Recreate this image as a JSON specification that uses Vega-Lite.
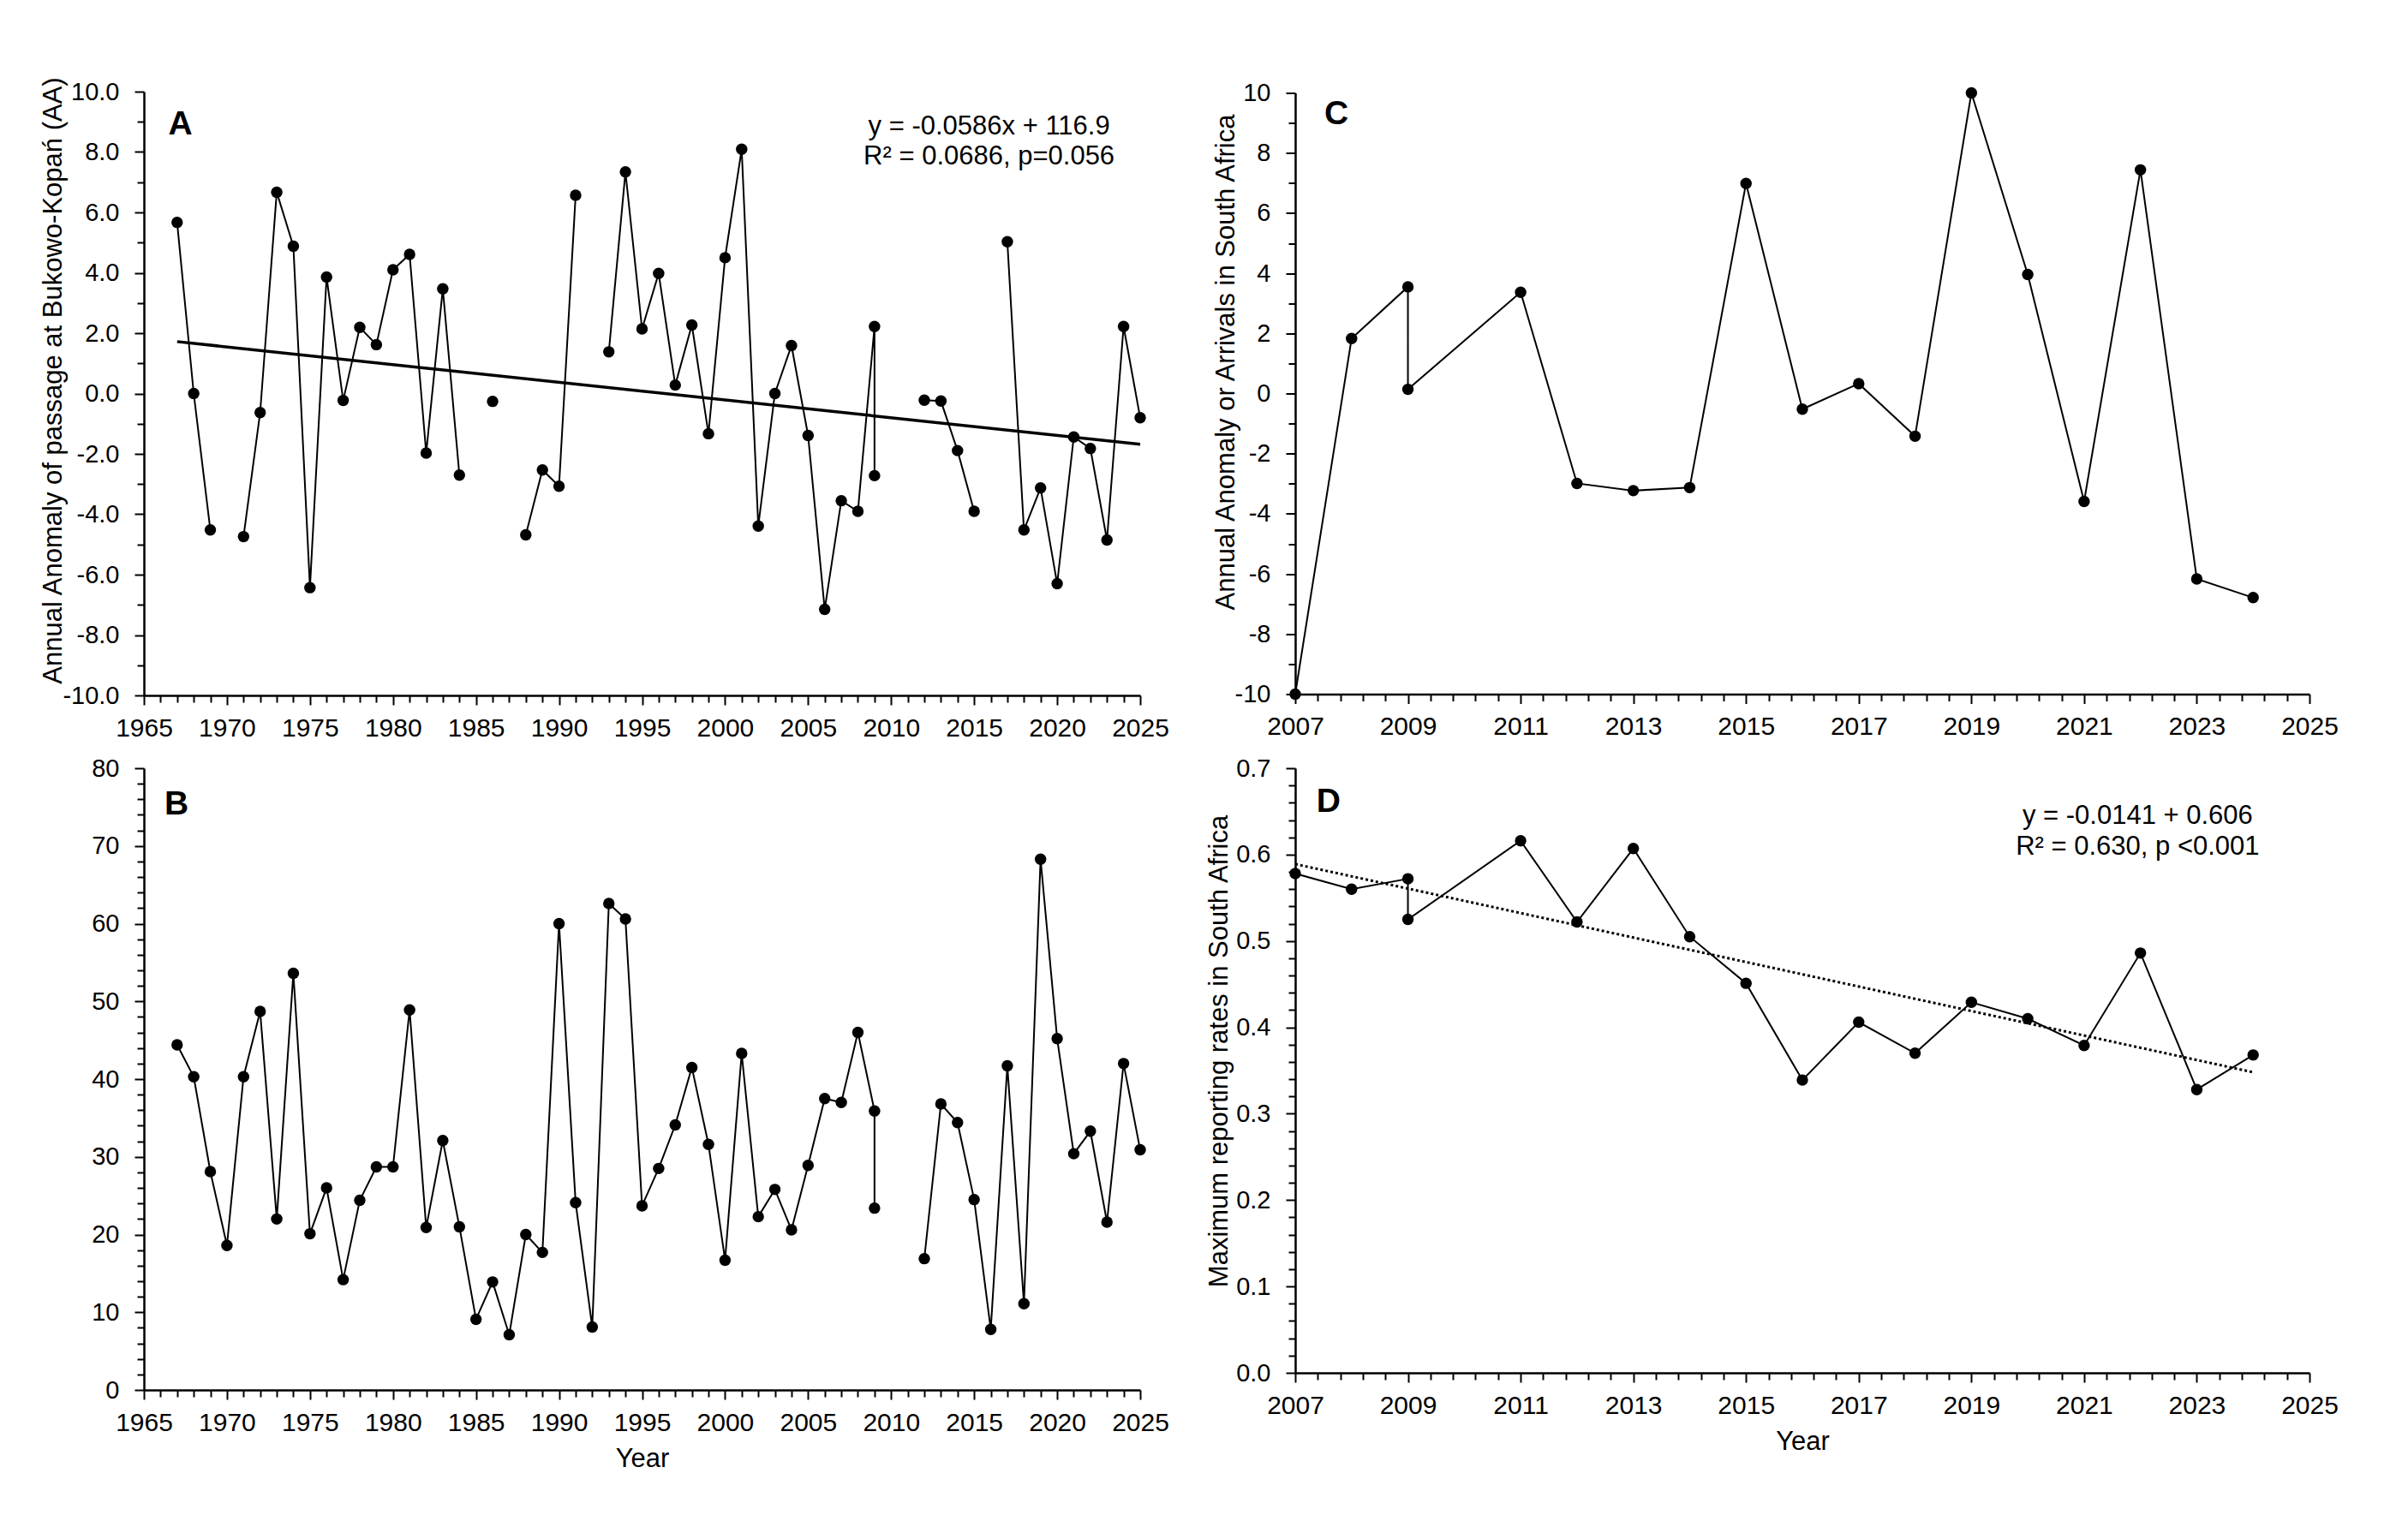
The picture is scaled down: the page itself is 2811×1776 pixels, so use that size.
{
  "$schema": "https://vega.github.io/schema/vega-lite/v6.json",
  "background": "white",
  "padding": {"left": 46, "top": 89, "right": 10, "bottom": 10},
  "columns": 2,
  "spacing": {"row": 85, "column": 181},
  "bounds": "flush",
  "center": {"row": true, "column": false},
  "datasets": {
    "A": [
      {"year": 1967, "value": 5.67, "seg": 1}, {"year": 1968, "value": 0.0, "seg": 1}, {"year": 1969, "value": -4.52, "seg": 1},
      {"year": 1971, "value": -4.74, "seg": 2}, {"year": 1972, "value": -0.63, "seg": 2}, {"year": 1973, "value": 6.67, "seg": 2},
      {"year": 1974, "value": 4.88, "seg": 2}, {"year": 1975, "value": -6.43, "seg": 2}, {"year": 1976, "value": 3.86, "seg": 2},
      {"year": 1977, "value": -0.23, "seg": 2}, {"year": 1978, "value": 2.19, "seg": 2}, {"year": 1979, "value": 1.62, "seg": 2},
      {"year": 1980, "value": 4.1, "seg": 2}, {"year": 1981, "value": 4.61, "seg": 2}, {"year": 1982, "value": -1.97, "seg": 2},
      {"year": 1983, "value": 3.47, "seg": 2}, {"year": 1984, "value": -2.7, "seg": 2},
      {"year": 1986, "value": -0.26, "seg": 3},
      {"year": 1988, "value": -4.68, "seg": 4}, {"year": 1989, "value": -2.53, "seg": 4}, {"year": 1990, "value": -3.07, "seg": 4}, {"year": 1991, "value": 6.57, "seg": 4},
      {"year": 1993, "value": 1.38, "seg": 5}, {"year": 1994, "value": 7.34, "seg": 5}, {"year": 1995, "value": 2.14, "seg": 5},
      {"year": 1996, "value": 3.98, "seg": 5}, {"year": 1997, "value": 0.28, "seg": 5}, {"year": 1998, "value": 2.27, "seg": 5},
      {"year": 1999, "value": -1.33, "seg": 5}, {"year": 2000, "value": 4.5, "seg": 5}, {"year": 2001, "value": 8.09, "seg": 5},
      {"year": 2002, "value": -4.39, "seg": 5}, {"year": 2003, "value": 0.0, "seg": 5}, {"year": 2004, "value": 1.59, "seg": 5},
      {"year": 2005, "value": -1.39, "seg": 5}, {"year": 2006, "value": -7.15, "seg": 5}, {"year": 2007, "value": -3.55, "seg": 5},
      {"year": 2008, "value": -3.9, "seg": 5}, {"year": 2009, "value": 2.22, "seg": 5}, {"year": 2009, "value": -2.72, "seg": 5},
      {"year": 2012, "value": -0.22, "seg": 6}, {"year": 2013, "value": -0.25, "seg": 6}, {"year": 2014, "value": -1.89, "seg": 6}, {"year": 2015, "value": -3.9, "seg": 6},
      {"year": 2017, "value": 5.03, "seg": 7}, {"year": 2018, "value": -4.52, "seg": 7}, {"year": 2019, "value": -3.13, "seg": 7},
      {"year": 2020, "value": -6.3, "seg": 7}, {"year": 2021, "value": -1.44, "seg": 7}, {"year": 2022, "value": -1.82, "seg": 7},
      {"year": 2023, "value": -4.85, "seg": 7}, {"year": 2024, "value": 2.22, "seg": 7}, {"year": 2025, "value": -0.8, "seg": 7}
    ],
    "A_trend": [{"year": 1967, "value": 1.72}, {"year": 2025, "value": -1.68}],
    "B": [
      {"year": 1967, "value": 44.4, "seg": 1}, {"year": 1968, "value": 40.3, "seg": 1}, {"year": 1969, "value": 28.1, "seg": 1},
      {"year": 1970, "value": 18.6, "seg": 1}, {"year": 1971, "value": 40.3, "seg": 1}, {"year": 1972, "value": 48.7, "seg": 1},
      {"year": 1973, "value": 22.0, "seg": 1}, {"year": 1974, "value": 53.6, "seg": 1}, {"year": 1975, "value": 20.1, "seg": 1},
      {"year": 1976, "value": 26.0, "seg": 1}, {"year": 1977, "value": 14.2, "seg": 1}, {"year": 1978, "value": 24.4, "seg": 1},
      {"year": 1979, "value": 28.7, "seg": 1}, {"year": 1980, "value": 28.7, "seg": 1}, {"year": 1981, "value": 48.9, "seg": 1},
      {"year": 1982, "value": 20.9, "seg": 1}, {"year": 1983, "value": 32.1, "seg": 1}, {"year": 1984, "value": 21.0, "seg": 1},
      {"year": 1985, "value": 9.1, "seg": 1}, {"year": 1986, "value": 13.9, "seg": 1}, {"year": 1987, "value": 7.1, "seg": 1},
      {"year": 1988, "value": 20.0, "seg": 1}, {"year": 1989, "value": 17.7, "seg": 1}, {"year": 1990, "value": 60.0, "seg": 1},
      {"year": 1991, "value": 24.1, "seg": 1}, {"year": 1992, "value": 8.1, "seg": 1}, {"year": 1993, "value": 62.6, "seg": 1},
      {"year": 1994, "value": 60.6, "seg": 1}, {"year": 1995, "value": 23.7, "seg": 1}, {"year": 1996, "value": 28.5, "seg": 1},
      {"year": 1997, "value": 34.1, "seg": 1}, {"year": 1998, "value": 41.5, "seg": 1}, {"year": 1999, "value": 31.6, "seg": 1},
      {"year": 2000, "value": 16.7, "seg": 1}, {"year": 2001, "value": 43.3, "seg": 1}, {"year": 2002, "value": 22.3, "seg": 1},
      {"year": 2003, "value": 25.8, "seg": 1}, {"year": 2004, "value": 20.6, "seg": 1}, {"year": 2005, "value": 28.9, "seg": 1},
      {"year": 2006, "value": 37.5, "seg": 1}, {"year": 2007, "value": 37.0, "seg": 1}, {"year": 2008, "value": 46.0, "seg": 1},
      {"year": 2009, "value": 35.9, "seg": 1}, {"year": 2009, "value": 23.4, "seg": 1},
      {"year": 2012, "value": 16.9, "seg": 2}, {"year": 2013, "value": 36.8, "seg": 2}, {"year": 2014, "value": 34.4, "seg": 2},
      {"year": 2015, "value": 24.5, "seg": 2}, {"year": 2016, "value": 7.8, "seg": 2}, {"year": 2017, "value": 41.7, "seg": 2},
      {"year": 2018, "value": 11.1, "seg": 2}, {"year": 2019, "value": 68.3, "seg": 2}, {"year": 2020, "value": 45.2, "seg": 2},
      {"year": 2021, "value": 30.4, "seg": 2}, {"year": 2022, "value": 33.3, "seg": 2}, {"year": 2023, "value": 21.6, "seg": 2},
      {"year": 2024, "value": 42.0, "seg": 2}, {"year": 2025, "value": 30.9, "seg": 2}
    ],
    "C": [
      {"year": 2007, "value": -10.0, "seg": 1}, {"year": 2008, "value": 1.83, "seg": 1}, {"year": 2009, "value": 3.55, "seg": 1},
      {"year": 2009, "value": 0.14, "seg": 1}, {"year": 2011, "value": 3.37, "seg": 1}, {"year": 2012, "value": -2.99, "seg": 1},
      {"year": 2013, "value": -3.23, "seg": 1}, {"year": 2014, "value": -3.13, "seg": 1}, {"year": 2015, "value": 6.99, "seg": 1},
      {"year": 2016, "value": -0.52, "seg": 1}, {"year": 2017, "value": 0.33, "seg": 1}, {"year": 2018, "value": -1.42, "seg": 1},
      {"year": 2019, "value": 10.0, "seg": 1}, {"year": 2020, "value": 3.96, "seg": 1}, {"year": 2021, "value": -3.59, "seg": 1},
      {"year": 2022, "value": 7.44, "seg": 1}, {"year": 2023, "value": -6.17, "seg": 1}, {"year": 2024, "value": -6.79, "seg": 1}
    ],
    "D": [
      {"year": 2007, "value": 0.578, "seg": 1}, {"year": 2008, "value": 0.56, "seg": 1}, {"year": 2009, "value": 0.572, "seg": 1},
      {"year": 2009, "value": 0.525, "seg": 1}, {"year": 2011, "value": 0.616, "seg": 1}, {"year": 2012, "value": 0.522, "seg": 1},
      {"year": 2013, "value": 0.607, "seg": 1}, {"year": 2014, "value": 0.505, "seg": 1}, {"year": 2015, "value": 0.451, "seg": 1},
      {"year": 2016, "value": 0.339, "seg": 1}, {"year": 2017, "value": 0.406, "seg": 1}, {"year": 2018, "value": 0.37, "seg": 1},
      {"year": 2019, "value": 0.429, "seg": 1}, {"year": 2020, "value": 0.41, "seg": 1}, {"year": 2021, "value": 0.379, "seg": 1},
      {"year": 2022, "value": 0.486, "seg": 1}, {"year": 2023, "value": 0.328, "seg": 1}, {"year": 2024, "value": 0.368, "seg": 1}
    ],
    "D_trend": [{"year": 2007, "value": 0.589}, {"year": 2024, "value": 0.348}]
  },
  "concat": [
    {
      "width": 1163,
      "height": 705,
      "layer": [
        {
          "data": {"name": "A"},
          "mark": {"type": "line", "color": "black", "strokeWidth": 2},
          "encoding": {
            "x": {"field": "year", "type": "quantitative", "scale": {"domain": [1965, 2025], "nice": false, "zero": false},
              "axis": {"title": null, "format": "d", "labelFontSize": 30, "labelPadding": 12, "labelOverlap": false, "tickCount": 500, "tickMinStep": 0.1,
                "values": [1965,1966,1967,1968,1969,1970,1971,1972,1973,1974,1975,1976,1977,1978,1979,1980,1981,1982,1983,1984,1985,1986,1987,1988,1989,1990,1991,1992,1993,1994,1995,1996,1997,1998,1999,2000,2001,2002,2003,2004,2005,2006,2007,2008,2009,2010,2011,2012,2013,2014,2015,2016,2017,2018,2019,2020,2021,2022,2023,2024,2025],
                "labelExpr": "datum.value % 5 === 0 ? datum.label : ''",
                "tickSize": {"condition": {"test": "datum.value % 5 === 0", "value": 11}, "value": 8}}},
            "y": {"field": "value", "type": "quantitative", "scale": {"domain": [-10, 10], "nice": false, "zero": false},
              "axis": {"title": "Annual Anomaly of passage at Bukowo-Kopań (AA)", "format": ".1f", "labelPadding": 18, "labelOverlap": false, "tickCount": 500, "tickMinStep": 0.01,
                "titleX": -90, "titleY": 337,
                "values": [-10,-9,-8,-7,-6,-5,-4,-3,-2,-1,0,1,2,3,4,5,6,7,8,9,10],
                "labelExpr": "datum.value % 2 === 0 ? replace(datum.label, '−', '-') : ''",
                "tickSize": {"condition": {"test": "datum.value % 2 === 0", "value": 11}, "value": 8}}},
            "detail": {"field": "seg"},
            "order": {"value": null}
          }
        },
        {
          "data": {"name": "A_trend"},
          "mark": {"type": "line", "color": "black", "strokeWidth": 3.5},
          "encoding": {"x": {"field": "year", "type": "quantitative"}, "y": {"field": "value", "type": "quantitative"}}
        },
        {
          "data": {"name": "A"},
          "mark": {"type": "circle", "color": "black", "size": 180, "opacity": 1},
          "encoding": {"x": {"field": "year", "type": "quantitative"}, "y": {"field": "value", "type": "quantitative"}}
        },
        {
          "data": {"values": [{"t": "A"}]},
          "mark": {"type": "text", "fontSize": 39, "fontWeight": "bold", "align": "center", "baseline": "middle", "color": "black"},
          "encoding": {"x": {"datum": 1967.2}, "y": {"datum": 8.92}, "text": {"field": "t"}}
        },
        {
          "data": {"values": [{"t": "y = -0.0586x + 116.9\nR² = 0.0686, p=0.056"}]},
          "mark": {"type": "text", "fontSize": 31, "align": "center", "baseline": "middle", "color": "black", "lineBreak": "\n", "lineHeight": 35},
          "encoding": {"x": {"datum": 2015.9}, "y": {"datum": 8.85}, "text": {"field": "t"}}
        }
      ]
    },
    {
      "width": 1184,
      "height": 702,
      "layer": [
        {
          "data": {"name": "C"},
          "mark": {"type": "line", "color": "black", "strokeWidth": 2},
          "encoding": {
            "x": {"field": "year", "type": "quantitative", "scale": {"domain": [2007, 2025], "nice": false, "zero": false},
              "axis": {"title": null, "format": "d", "labelFontSize": 30, "labelPadding": 12, "labelOverlap": false, "tickCount": 500, "tickMinStep": 0.01,
                "values": [2007,2007.4,2007.8,2008.2,2008.6,2009,2009.4,2009.8,2010.2,2010.6,2011,2011.4,2011.8,2012.2,2012.6,2013,2013.4,2013.8,2014.2,2014.6,2015,2015.4,2015.8,2016.2,2016.6,2017,2017.4,2017.8,2018.2,2018.6,2019,2019.4,2019.8,2020.2,2020.6,2021,2021.4,2021.8,2022.2,2022.6,2023,2023.4,2023.8,2024.2,2024.6,2025],
                "labelExpr": "abs(datum.value - round(datum.value)) < 0.01 && round(datum.value) % 2 === 1 ? datum.label : ''",
                "tickSize": {"condition": {"test": "abs(datum.value - round(datum.value)) < 0.01 && round(datum.value) % 2 === 1", "value": 11}, "value": 8}}},
            "y": {"field": "value", "type": "quantitative", "scale": {"domain": [-10, 10], "nice": false, "zero": false},
              "axis": {"title": "Annual Anomaly or Arrivals in South Africa", "format": "d", "labelPadding": 18, "labelOverlap": false, "tickCount": 500, "tickMinStep": 0.01,
                "titleX": -65, "titleY": 314,
                "values": [-10,-9,-8,-7,-6,-5,-4,-3,-2,-1,0,1,2,3,4,5,6,7,8,9,10],
                "labelExpr": "datum.value % 2 === 0 ? replace(datum.label, '−', '-') : ''",
                "tickSize": {"condition": {"test": "datum.value % 2 === 0", "value": 11}, "value": 8}}},
            "detail": {"field": "seg"},
            "order": {"value": null}
          }
        },
        {
          "data": {"name": "C"},
          "mark": {"type": "circle", "color": "black", "size": 180, "opacity": 1},
          "encoding": {"x": {"field": "year", "type": "quantitative"}, "y": {"field": "value", "type": "quantitative"}}
        },
        {
          "data": {"values": [{"t": "C"}]},
          "mark": {"type": "text", "fontSize": 39, "fontWeight": "bold", "align": "center", "baseline": "middle", "color": "black"},
          "encoding": {"x": {"datum": 2007.73}, "y": {"datum": 9.29}, "text": {"field": "t"}}
        }
      ]
    },
    {
      "width": 1163,
      "height": 726,
      "layer": [
        {
          "data": {"name": "B"},
          "mark": {"type": "line", "color": "black", "strokeWidth": 2},
          "encoding": {
            "x": {"field": "year", "type": "quantitative", "scale": {"domain": [1965, 2025], "nice": false, "zero": false},
              "axis": {"title": "Year", "format": "d", "labelFontSize": 30, "labelPadding": 12, "titleY": 65, "labelOverlap": false, "tickCount": 500, "tickMinStep": 0.1,
                "values": [1965,1966,1967,1968,1969,1970,1971,1972,1973,1974,1975,1976,1977,1978,1979,1980,1981,1982,1983,1984,1985,1986,1987,1988,1989,1990,1991,1992,1993,1994,1995,1996,1997,1998,1999,2000,2001,2002,2003,2004,2005,2006,2007,2008,2009,2010,2011,2012,2013,2014,2015,2016,2017,2018,2019,2020,2021,2022,2023,2024,2025],
                "labelExpr": "datum.value % 5 === 0 ? datum.label : ''",
                "tickSize": {"condition": {"test": "datum.value % 5 === 0", "value": 11}, "value": 8}}},
            "y": {"field": "value", "type": "quantitative", "scale": {"domain": [0, 80], "nice": false, "zero": false},
              "axis": {"title": null, "format": "d", "labelPadding": 18, "labelOverlap": false, "tickCount": 500, "tickMinStep": 0.1,
                "values": [0,2,4,6,8,10,12,14,16,18,20,22,24,26,28,30,32,34,36,38,40,42,44,46,48,50,52,54,56,58,60,62,64,66,68,70,72,74,76,78,80],
                "labelExpr": "datum.value % 10 === 0 ? datum.label : ''",
                "tickSize": {"condition": {"test": "datum.value % 10 === 0", "value": 11}, "value": 8}}},
            "detail": {"field": "seg"},
            "order": {"value": null}
          }
        },
        {
          "data": {"name": "B"},
          "mark": {"type": "circle", "color": "black", "size": 180, "opacity": 1},
          "encoding": {"x": {"field": "year", "type": "quantitative"}, "y": {"field": "value", "type": "quantitative"}}
        },
        {
          "data": {"values": [{"t": "B"}]},
          "mark": {"type": "text", "fontSize": 39, "fontWeight": "bold", "align": "center", "baseline": "middle", "color": "black"},
          "encoding": {"x": {"datum": 1966.97}, "y": {"datum": 75.4}, "text": {"field": "t"}}
        }
      ]
    },
    {
      "width": 1184,
      "height": 706,
      "layer": [
        {
          "data": {"name": "D"},
          "mark": {"type": "line", "color": "black", "strokeWidth": 2},
          "encoding": {
            "x": {"field": "year", "type": "quantitative", "scale": {"domain": [2007, 2025], "nice": false, "zero": false},
              "axis": {"title": "Year", "format": "d", "labelFontSize": 30, "labelPadding": 12, "titleY": 65, "labelOverlap": false, "tickCount": 500, "tickMinStep": 0.01,
                "values": [2007,2007.4,2007.8,2008.2,2008.6,2009,2009.4,2009.8,2010.2,2010.6,2011,2011.4,2011.8,2012.2,2012.6,2013,2013.4,2013.8,2014.2,2014.6,2015,2015.4,2015.8,2016.2,2016.6,2017,2017.4,2017.8,2018.2,2018.6,2019,2019.4,2019.8,2020.2,2020.6,2021,2021.4,2021.8,2022.2,2022.6,2023,2023.4,2023.8,2024.2,2024.6,2025],
                "labelExpr": "abs(datum.value - round(datum.value)) < 0.01 && round(datum.value) % 2 === 1 ? datum.label : ''",
                "tickSize": {"condition": {"test": "abs(datum.value - round(datum.value)) < 0.01 && round(datum.value) % 2 === 1", "value": 11}, "value": 8}}},
            "y": {"field": "value", "type": "quantitative", "scale": {"domain": [0, 0.7], "nice": false, "zero": false},
              "axis": {"title": "Maximum reporting rates in South Africa", "format": ".1f", "labelPadding": 18, "labelOverlap": false, "tickCount": 500, "tickMinStep": 0.001,
                "titleX": -73, "titleY": 330,
                "values": [0,0.02,0.04,0.06,0.08,0.1,0.12,0.14,0.16,0.18,0.2,0.22,0.24,0.26,0.28,0.3,0.32,0.34,0.36,0.38,0.4,0.42,0.44,0.46,0.48,0.5,0.52,0.54,0.56,0.58,0.6,0.62,0.64,0.66,0.68,0.7],
                "labelExpr": "abs(datum.value * 10 - round(datum.value * 10)) < 0.01 ? datum.label : ''",
                "tickSize": {"condition": {"test": "abs(datum.value * 10 - round(datum.value * 10)) < 0.01", "value": 11}, "value": 8}}},
            "detail": {"field": "seg"},
            "order": {"value": null}
          }
        },
        {
          "data": {"name": "D_trend"},
          "mark": {"type": "line", "color": "black", "strokeWidth": 3, "strokeDash": [3, 3]},
          "encoding": {"x": {"field": "year", "type": "quantitative"}, "y": {"field": "value", "type": "quantitative"}}
        },
        {
          "data": {"name": "D"},
          "mark": {"type": "circle", "color": "black", "size": 180, "opacity": 1},
          "encoding": {"x": {"field": "year", "type": "quantitative"}, "y": {"field": "value", "type": "quantitative"}}
        },
        {
          "data": {"values": [{"t": "D"}]},
          "mark": {"type": "text", "fontSize": 39, "fontWeight": "bold", "align": "center", "baseline": "middle", "color": "black"},
          "encoding": {"x": {"datum": 2007.59}, "y": {"datum": 0.661}, "text": {"field": "t"}}
        },
        {
          "data": {"values": [{"t": "y = -0.0141 + 0.606\nR² = 0.630, p <0.001"}]},
          "mark": {"type": "text", "fontSize": 31, "align": "center", "baseline": "middle", "color": "black", "lineBreak": "\n", "lineHeight": 36},
          "encoding": {"x": {"datum": 2021.95}, "y": {"datum": 0.6445}, "text": {"field": "t"}}
        }
      ]
    }
  ],
  "config": {
    "font": "Liberation Sans",
    "view": {"stroke": null},
    "axis": {
      "grid": false,
      "labelFont": "Liberation Sans",
      "titleFont": "Liberation Sans",
      "labelColor": "black",
      "titleColor": "black",
      "domainColor": "black",
      "tickColor": "black",
      "domainWidth": 2.5,
      "tickWidth": 2,
      "labelFontSize": 29,
      "titleFontSize": 31,
      "titleFontWeight": "normal",
      "labelOverlap": false,
      "labelFlush": false,
      "labelBound": false
    },
    "text": {"font": "Liberation Sans"}
  }
}
